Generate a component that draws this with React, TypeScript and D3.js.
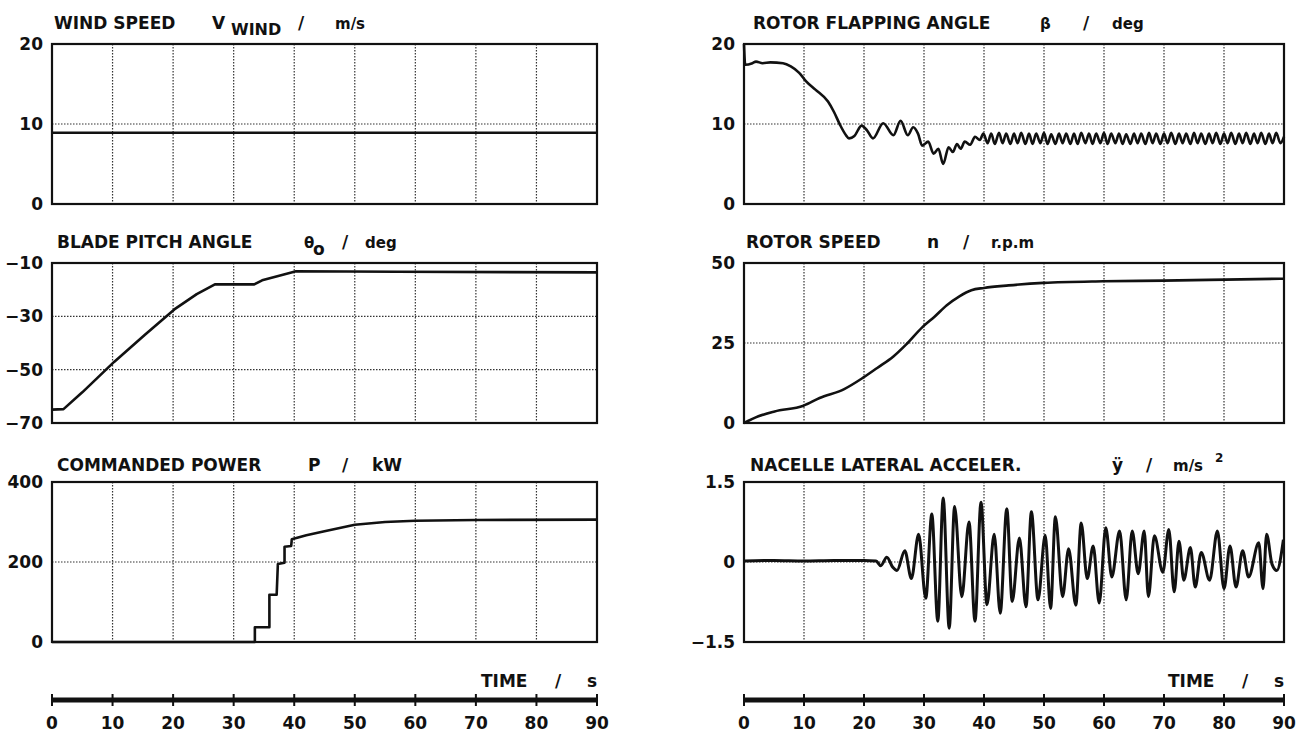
import React, { useEffect, useRef } from "react";
import * as d3 from "d3";

// time axis (s)
const timeTicks = [0, 10, 20, 30, 40, 50, 60, 70, 80, 90];

// [time s, value]
const windSpeed: [number, number][] = [
  [0, 8.9],
  [90, 8.9],
];

const bladePitch: [number, number][] = [
  [0, -65], [1.9, -64.8], [5, -58.5], [10.3, -47], [15.3, -37], [20.2, -27.4],
  [23.9, -21.7], [26.9, -18], [33.4, -18], [34.7, -16.5], [37.2, -15],
  [40.3, -13.1], [57, -13.3], [90, -13.5],
];

const commandedPower: [number, number][] = [
  [0, 0], [33.5, 0], [33.5, 37], [35.9, 37], [35.9, 118], [37.1, 118], [37.3, 195],
  [38.4, 198], [38.4, 238], [39.5, 240], [39.6, 257], [42, 267], [45, 277],
  [50, 293], [55, 300], [60, 303], [70, 305], [90, 306],
];

const flapAngle: [number, number][] = [
  [0, 20], [0.2, 17.4], [1.4, 17.6], [2, 17.8], [3.1, 17.6], [4.4, 17.7], [6.5, 17.6],
  [7.8, 17.2], [9.2, 16.4], [10.4, 15.3], [11.9, 14.3], [14, 12.8], [15, 11.5],
  [16, 9.9], [17, 8.6], [17.5, 8.2], [18.4, 8.5], [19.6, 9.8], [20.5, 9.2], [21.5, 8.2],
  [23.2, 10.1], [24.9, 8.6], [26.1, 10.4], [27.3, 8.6], [28.2, 9.6], [29, 8.8],
  [29.7, 7.3], [30.7, 7.8], [31.6, 6.3], [32.4, 6.9], [33.2, 5.0], [34.1, 7.1],
  [34.8, 6.5], [35.5, 7.5], [36.1, 6.9], [36.8, 7.8], [37.7, 7.4], [38.5, 8.4],
  [39.3, 8.0], [39.9, 8.8],
  [40.6, 7.6], [41.2, 8.8], [41.8, 7.5], [42.5, 8.9], [43.1, 7.6], [43.7, 8.8],
  [44.4, 7.5], [45.0, 8.8], [45.6, 7.6], [46.2, 8.9], [46.9, 7.5], [47.5, 8.8],
  [48.1, 7.5], [48.7, 8.8], [49.4, 7.6], [50.0, 8.9], [50.6, 7.5], [51.2, 8.7],
  [51.9, 7.5], [52.5, 8.8], [53.1, 7.6], [53.7, 8.8], [54.4, 7.5], [55.0, 8.8],
  [55.6, 7.5], [56.2, 8.9], [56.9, 7.6], [57.5, 8.8], [58.1, 7.5], [58.7, 8.8],
  [59.4, 7.6], [60.0, 8.9], [60.6, 7.5], [61.2, 8.8], [61.9, 7.6], [62.5, 8.8],
  [63.1, 7.5], [63.7, 8.7], [64.4, 7.5], [65.0, 8.8], [65.6, 7.6], [66.2, 8.8],
  [66.9, 7.5], [67.5, 8.9], [68.1, 7.6], [68.7, 8.8], [69.4, 7.5], [70.0, 8.8],
  [70.6, 7.6], [71.2, 8.9], [71.9, 7.5], [72.5, 8.8], [73.1, 7.6], [73.7, 8.8],
  [74.4, 7.5], [75.0, 8.9], [75.6, 7.6], [76.2, 8.8], [76.9, 7.5], [77.5, 8.8],
  [78.1, 7.6], [78.7, 8.9], [79.4, 7.5], [80.0, 8.8], [80.6, 7.6], [81.2, 8.9],
  [81.9, 7.5], [82.5, 8.8], [83.1, 7.6], [83.7, 8.9], [84.4, 7.5], [85.0, 8.8],
  [85.6, 7.6], [86.2, 8.9], [86.9, 7.5], [87.5, 8.8], [88.1, 7.6], [88.7, 8.9],
  [89.4, 7.6], [90.0, 8.4],
];

const rotorSpeed: [number, number][] = [
  [0, 0], [2.4, 2.1], [5.1, 3.6], [9.9, 5.4], [12.6, 7.8], [16.7, 10.6], [19.8, 14.1],
  [22.2, 17.2], [24.9, 20.8], [27, 24.5], [29.7, 29.9], [31.8, 33.3], [33.8, 36.8],
  [35.9, 39.6], [37.9, 41.5], [40, 42.2], [44.1, 43], [49.9, 43.8], [59.9, 44.3],
  [69.9, 44.5], [80.2, 44.8], [90, 45.1],
];

const nacelleAccel: [number, number][] = [
  [0, 0.02], [5, 0.03], [10, 0.02], [15, 0.03], [20, 0.03], [22, 0.02],
  [22.8, -0.07], [23.8, 0.09], [24.8, -0.1], [25.5, -0.16], [26.8, 0.21],
  [27.9, -0.31], [29.1, 0.52], [30.3, -0.68], [31.3, 0.9], [32.3, -1.11],
  [33.2, 1.2], [34.2, -1.24], [35.1, 1.04], [36.3, -0.65], [37.5, 0.75],
  [38.5, -1.11], [39.5, 1.12], [40.5, -0.8], [41.7, 0.52], [42.7, -0.96],
  [43.8, 1.0], [44.7, -0.74], [45.9, 0.45], [47, -0.84], [47.9, 0.94],
  [49, -0.71], [50.2, 0.5], [51.1, -0.87], [51.9, 0.85], [53.1, -0.65],
  [54.1, 0.25], [55.3, -0.81], [56.2, 0.73], [57.2, -0.31], [58.2, 0.3],
  [59.2, -0.77], [60.3, 0.64], [61.3, -0.28], [62.6, 0.58], [63.7, -0.71],
  [64.7, 0.58], [65.7, -0.22], [66.7, 0.58], [67.4, -0.65], [68.4, 0.49],
  [69.8, -0.19], [70.8, 0.61], [71.7, -0.56], [72.5, 0.39], [73.3, -0.34],
  [74.4, 0.27], [75.2, -0.47], [76.2, 0.18], [77.6, -0.34], [78.9, 0.58],
  [80, -0.5], [81, 0.3], [82, -0.47], [83.1, 0.21], [84.1, -0.28], [85.8, 0.36],
  [86.5, -0.5], [87.1, 0.52], [88, -0.04], [88.8, -0.16], [89.9, 0.42],
];

// y ticks per panel
const windTicks = [0, 10, 20];
const pitchTicks = [-70, -50, -30, -10];
const powerTicks = [0, 200, 400];
const flapTicks = [0, 10, 20];
const speedTicks = [0, 25, 50];
const accelTicks = [-1.5, 0, 1.5];

const FONT = "'DejaVu Sans', sans-serif";

type Part = { text: string; x: number; dy?: number; size?: number };

const fmt = (v: number) => (v < 0 ? "\u2212" + String(-v) : String(v));

export default function App() {
  const svgRef = useRef<SVGSVGElement | null>(null);

  useEffect(() => {
    const svg = d3.select(svgRef.current);
    svg.selectAll("*").remove();

    const cols = [
      [52, 597],
      [744, 1284],
    ];
    const rows = [44, 263, 482];
    const panelH = 160;
    const titleBase = [29, 248, 471];

    const panels = [
      {
        col: 0, row: 0, data: windSpeed, ticks: windTicks, curve: d3.curveLinear,
        title: [
          { text: "WIND SPEED", x: 54 }, { text: "V", x: 212 },
          { text: "WIND", x: 231, dy: 6, size: 16 }, { text: "/", x: 298 },
          { text: "m/s", x: 335, size: 15 },
        ],
      },
      {
        col: 0, row: 1, data: bladePitch, ticks: pitchTicks, curve: d3.curveLinear,
        title: [
          { text: "BLADE PITCH ANGLE", x: 57 }, { text: "θ", x: 304, size: 15 },
          { text: "o", x: 313, dy: 7 }, { text: "/", x: 342 },
          { text: "deg", x: 365, size: 15 },
        ],
      },
      {
        col: 0, row: 2, data: commandedPower, ticks: powerTicks, curve: d3.curveLinear,
        title: [
          { text: "COMMANDED POWER", x: 57 }, { text: "P", x: 308 },
          { text: "/", x: 342 }, { text: "kW", x: 372 },
        ],
      },
      {
        col: 1, row: 0, data: flapAngle, ticks: flapTicks, curve: d3.curveMonotoneX,
        title: [
          { text: "ROTOR FLAPPING ANGLE", x: 753 }, { text: "β", x: 1040, size: 15 },
          { text: "/", x: 1083 }, { text: "deg", x: 1112, size: 15 },
        ],
      },
      {
        col: 1, row: 1, data: rotorSpeed, ticks: speedTicks, curve: d3.curveMonotoneX,
        title: [
          { text: "ROTOR SPEED", x: 746 }, { text: "n", x: 927 },
          { text: "/", x: 963 }, { text: "r.p.m", x: 991, size: 15 },
        ],
      },
      {
        col: 1, row: 2, data: nacelleAccel, ticks: accelTicks, curve: d3.curveMonotoneX,
        title: [
          { text: "NACELLE LATERAL ACCELER.", x: 750 }, { text: "ÿ", x: 1112 },
          { text: "/", x: 1146 }, { text: "m/s", x: 1173, size: 15 },
          { text: "2", x: 1215, dy: -9, size: 12 },
        ],
      },
    ];

    panels.forEach((p) => {
      const [xa, xb] = cols[p.col];
      const top = rows[p.row];
      const x = d3.scaleLinear().domain([0, 90]).range([xa, xb]);
      const y = d3
        .scaleLinear()
        .domain([p.ticks[0], p.ticks[p.ticks.length - 1]])
        .range([top + panelH, top]);
      const g = svg.append("g");

      // title
      const t = g
        .append("text")
        .attr("y", titleBase[p.row])
        .attr("font-family", FONT)
        .attr("font-weight", "bold")
        .attr("font-size", 17)
        .attr("fill", "#111");
      (p.title as Part[]).forEach((part) => {
        t.append("tspan")
          .attr("x", part.x)
          .attr("y", titleBase[p.row] + (part.dy || 0))
          .attr("font-size", part.size || 17)
          .text(part.text);
      });

      // grid
      g.selectAll(".vg")
        .data(timeTicks.slice(1, -1))
        .enter()
        .append("line")
        .attr("x1", (d) => x(d))
        .attr("x2", (d) => x(d))
        .attr("y1", top)
        .attr("y2", top + panelH)
        .attr("stroke", "#333")
        .attr("stroke-width", 1.2)
        .attr("stroke-dasharray", "1.5,1.5");
      g.selectAll(".hg")
        .data(p.ticks.slice(1, -1))
        .enter()
        .append("line")
        .attr("x1", xa)
        .attr("x2", xb)
        .attr("y1", (d) => y(d))
        .attr("y2", (d) => y(d))
        .attr("stroke", "#333")
        .attr("stroke-width", 1.2)
        .attr("stroke-dasharray", "1.5,1.5");

      // y labels
      g.selectAll(".yl")
        .data(p.ticks)
        .enter()
        .append("text")
        .attr("x", xa - 9)
        .attr("y", (d) => y(d) + 6)
        .attr("text-anchor", "end")
        .attr("font-family", FONT)
        .attr("font-weight", "bold")
        .attr("font-size", 17)
        .attr("fill", "#111")
        .text((d) => fmt(d));

      // trace
      const line = d3
        .line<[number, number]>()
        .x((d) => x(d[0]))
        .y((d) => y(d[1]))
        .curve(p.curve);
      g.append("path")
        .attr("d", line(p.data))
        .attr("fill", "none")
        .attr("stroke", "#111")
        .attr("stroke-width", p.data === nacelleAccel ? 3 : 2.6)
        .attr("stroke-linejoin", "round");

      // frame
      g.append("rect")
        .attr("x", xa)
        .attr("y", top)
        .attr("width", xb - xa)
        .attr("height", panelH)
        .attr("fill", "none")
        .attr("stroke", "#111")
        .attr("stroke-width", 2.2);
    });

    // time axes
    cols.forEach(([xa, xb]) => {
      const x = d3.scaleLinear().domain([0, 90]).range([xa, xb]);
      const g = svg.append("g");
      g.append("line")
        .attr("x1", x(0))
        .attr("x2", x(90))
        .attr("y1", 700)
        .attr("y2", 700)
        .attr("stroke", "#111")
        .attr("stroke-width", 5);
      g.selectAll(".tk")
        .data(timeTicks)
        .enter()
        .append("line")
        .attr("x1", (d) => x(d))
        .attr("x2", (d) => x(d))
        .attr("y1", 694)
        .attr("y2", 706)
        .attr("stroke", "#111")
        .attr("stroke-width", 2);
      g.selectAll(".tl")
        .data(timeTicks)
        .enter()
        .append("text")
        .attr("x", (d) => x(d))
        .attr("y", 729)
        .attr("text-anchor", "middle")
        .attr("font-family", FONT)
        .attr("font-weight", "bold")
        .attr("font-size", 17)
        .attr("fill", "#111")
        .text((d) => String(d));
      const tt = g
        .append("text")
        .attr("y", 687)
        .attr("font-family", FONT)
        .attr("font-weight", "bold")
        .attr("font-size", 17)
        .attr("fill", "#111");
      tt.append("tspan").attr("x", xb - 116).text("TIME");
      tt.append("tspan").attr("x", xb - 42).text("/");
      tt.append("tspan").attr("x", xb - 10).text("s");
    });
  }, []);

  return (
    <svg
      ref={svgRef}
      width={1298}
      height={733}
      style={{ position: "absolute", left: 0, top: 0, background: "#fff" }}
    />
  );
}
